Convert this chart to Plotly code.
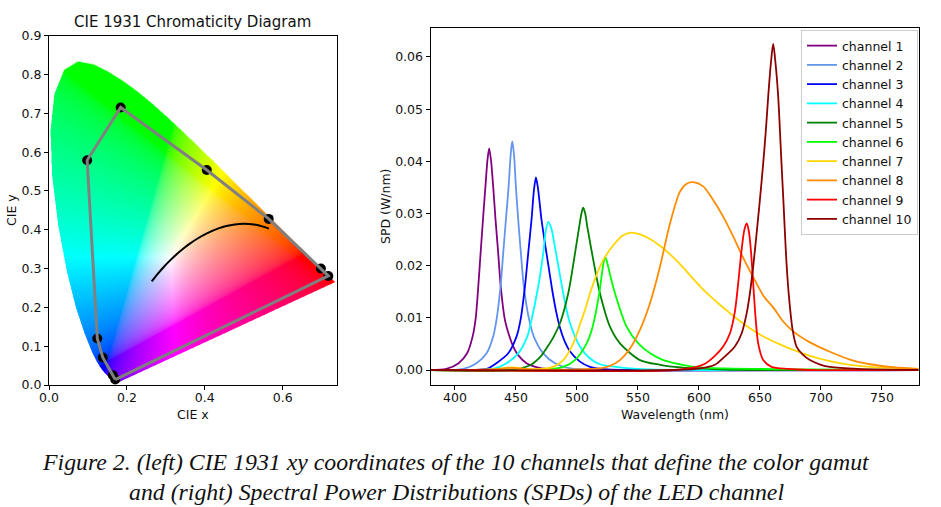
import numpy as np
import plotly.graph_objects as go
import zlib, struct, base64

# ---------------- DATA ----------------
# CIE 1931 2-degree spectral locus (x, y), 380-700 nm
locus_x = [0.1741, 0.1740, 0.1738, 0.1736, 0.1733, 0.1730, 0.1726, 0.1721, 0.1714, 0.1703,
           0.1689, 0.1669, 0.1644, 0.1611, 0.1566, 0.1510, 0.1440, 0.1355, 0.1241, 0.1096,
           0.0913, 0.0687, 0.0454, 0.0235, 0.0082, 0.0039, 0.0139, 0.0389, 0.0743, 0.1142,
           0.1547, 0.1929, 0.2296, 0.2658, 0.3016, 0.3373, 0.3731, 0.4087, 0.4441, 0.4788,
           0.5125, 0.5448, 0.5752, 0.6029, 0.6270, 0.6482, 0.6658, 0.6801, 0.6915, 0.7006,
           0.7079, 0.7140, 0.7190, 0.7230, 0.7260, 0.7283, 0.7300, 0.7311, 0.7320, 0.7334,
           0.7344, 0.7347]
locus_y = [0.0050, 0.0050, 0.0049, 0.0049, 0.0048, 0.0048, 0.0048, 0.0048, 0.0051, 0.0058,
           0.0069, 0.0086, 0.0109, 0.0138, 0.0177, 0.0227, 0.0297, 0.0399, 0.0578, 0.0868,
           0.1327, 0.2007, 0.2950, 0.4127, 0.5384, 0.6548, 0.7502, 0.8120, 0.8338, 0.8262,
           0.8059, 0.7816, 0.7543, 0.7243, 0.6923, 0.6589, 0.6245, 0.5896, 0.5547, 0.5202,
           0.4866, 0.4544, 0.4242, 0.3965, 0.3725, 0.3514, 0.3340, 0.3197, 0.3083, 0.2993,
           0.2920, 0.2859, 0.2809, 0.2770, 0.2740, 0.2717, 0.2700, 0.2689, 0.2680, 0.2666,
           0.2656, 0.2653]

# Planckian locus (1667 K ... 15000 K)
planck_x = [0.5646, 0.5496, 0.5267, 0.5003, 0.4770, 0.4553, 0.4369, 0.4053, 0.3805, 0.3607,
            0.3451, 0.3221, 0.3064, 0.2952, 0.2807, 0.2718, 0.2637]
planck_y = [0.4029, 0.4081, 0.4133, 0.4153, 0.4137, 0.4097, 0.4041, 0.3907, 0.3768, 0.3635,
            0.3516, 0.3318, 0.3166, 0.3048, 0.2884, 0.2776, 0.2672]

# CIE xy of the 10 channels
chan_x = [0.170, 0.164, 0.138, 0.124, 0.098, 0.184, 0.405, 0.564, 0.698, 0.717]
chan_y = [0.014, 0.025, 0.071, 0.120, 0.579, 0.715, 0.554, 0.428, 0.300, 0.281]

channel_names = ["channel %d" % i for i in range(1, 11)]
channel_colors = ["purple", "cornflowerblue", "blue", "cyan", "green",
                  "lime", "gold", "darkorange", "red", "darkred"]

wl1 = [380, 393, 403, 410, 414.5, 417, 419, 421, 423, 425, 426.8, 428.1, 429.6, 431.4, 433.3,
       435.5, 437.5, 441, 444.5, 447.8, 452, 458.7, 466, 475, 490, 780]
spd1 = [0, 0.0002, 0.0013, 0.0032, 0.0064, 0.0098, 0.0155, 0.0222, 0.0288, 0.0351, 0.0405,
        0.0425, 0.0402, 0.0351, 0.0288, 0.0224, 0.0162, 0.0096, 0.0066, 0.0045, 0.0028,
        0.0013, 0.0006, 0.0002, 0, 0]

wl2 = [380, 400, 407, 417.7, 426, 431.4, 434.1, 437.4, 439.6, 441.8, 444, 445.8, 447, 448.4,
       450, 451.9, 454.1, 456.5, 460.9, 464.7, 472.4, 482, 495, 520, 780]
spd2 = [0, 0, 0.0002, 0.0013, 0.0032, 0.0064, 0.0096, 0.016, 0.0224, 0.0288, 0.0351, 0.0415,
        0.0438, 0.0414, 0.0351, 0.0288, 0.0224, 0.016, 0.0096, 0.0064, 0.0032, 0.0013,
        0.0003, 0, 0]

wl3 = [380, 415, 426, 434, 443.7, 450.5, 453.8, 457.4, 460.1, 462.8, 464.8, 466.4, 468, 471,
       474, 477, 480, 483, 486, 490, 494.3, 502.5, 510.7, 525, 550, 780]
spd3 = [0, 0, 0.0002, 0.0013, 0.0032, 0.0064, 0.0096, 0.016, 0.0224, 0.0288, 0.0345, 0.0369,
        0.0350, 0.0288, 0.0240, 0.0195, 0.0150, 0.0112, 0.0082, 0.0055, 0.0036, 0.0016,
        0.0006, 0.0001, 0, 0]

wl4 = [380, 420, 431.4, 442.3, 451.9, 459.3, 462.8, 468.3, 472.4, 474.6, 476.5, 479, 482,
       486.1, 490.2, 494.3, 502.5, 510.7, 518.9, 535.3, 560, 600, 780]
spd4 = [0, 0, 0.0002, 0.0013, 0.0032, 0.0064, 0.0096, 0.016, 0.0224, 0.0268, 0.0284, 0.0272,
        0.0236, 0.0182, 0.0130, 0.0090, 0.0045, 0.0022, 0.0011, 0.0005, 0.0001, 0, 0]

wl5 = [380, 445, 461.5, 470, 476, 481, 486.5, 492.9, 497.6, 501.9, 503.8, 505.2, 506.8, 508.5,
       513.4, 518.9, 527.1, 535.3, 551.7, 568.1, 585, 600, 620, 650, 780]
spd5 = [0, 0, 0.0009, 0.0025, 0.0045, 0.0064, 0.0092, 0.0147, 0.0211, 0.0275, 0.0301, 0.0311,
        0.0300, 0.0275, 0.0211, 0.0147, 0.0083, 0.0051, 0.0019, 0.0010, 0.0005, 0.0003,
        0.0001, 0, 0]

wl6 = [380, 470, 488.8, 498.4, 508, 512.9, 518.3, 520.2, 521.8, 523.2, 524.8, 527.6, 531.2,
       540.7, 550.3, 560, 570.8, 584.5, 600, 620, 650, 690, 780]
spd6 = [0, 0, 0.0006, 0.0019, 0.0051, 0.0083, 0.0147, 0.0179, 0.0205, 0.0217, 0.0206, 0.0179,
        0.0147, 0.0083, 0.0051, 0.0032, 0.0019, 0.0011, 0.0005, 0.0003, 0.0002, 0.0001, 0]

wl7 = [380, 430, 447, 460, 470, 480.6, 488.8, 497, 501.9, 506.6, 510.7, 515.6, 521.6, 531.2,
       537, 543.4, 551.7, 559.9, 568.1, 576.2, 584.5, 592.6, 600.8, 609, 617.2, 625.4, 633.6,
       641.8, 650, 658.2, 666.4, 674.6, 682.8, 691, 707.4, 723.8, 740.2, 756.6, 780]
spd7 = [0, 0.0001, 0.0005, 0.0002, 0.0002, 0.0006, 0.0019, 0.0051, 0.0083, 0.0115, 0.0147,
        0.0179, 0.0211, 0.0243, 0.0257, 0.0263, 0.0260, 0.0251, 0.0238, 0.0222, 0.0203,
        0.0182, 0.0161, 0.0142, 0.0125, 0.0109, 0.0094, 0.0080, 0.0068, 0.0058, 0.0049,
        0.0041, 0.0034, 0.0027, 0.0017, 0.0010, 0.0006, 0.0004, 0.0002]

wl8 = [380, 430, 447, 460, 500, 518.9, 527.1, 535.3, 543.5, 551.7, 559.9, 568.1, 576.2, 584.5,
       590, 595.3, 603.5, 611.7, 619.9, 628.1, 636.3, 644.5, 652.7, 660.9, 669.1, 677.3, 691,
       707.4, 723.8, 740.2, 756.6, 773, 780]
spd8 = [0, 0.0001, 0.0004, 0.0001, 0.0001, 0.0003, 0.0008, 0.0019, 0.0041, 0.0077, 0.0128,
        0.0198, 0.0280, 0.0342, 0.0357, 0.0360, 0.0352, 0.0326, 0.0294, 0.0256, 0.0215,
        0.0178, 0.0143, 0.0120, 0.0093, 0.0074, 0.0053, 0.0035, 0.0020, 0.0011, 0.0006,
        0.0003, 0.0002]

wl9 = [380, 580, 598, 605, 613.1, 619.9, 625.4, 629.5, 632.2, 635, 637.2, 639.2, 641, 642.6,
       644.5, 646.4, 648.6, 652.7, 659.5, 673, 690, 780]
spd9 = [0, 0, 0.0006, 0.0012, 0.0027, 0.0045, 0.0070, 0.0112, 0.0166, 0.0230, 0.0268, 0.0281,
        0.0265, 0.0230, 0.0166, 0.0102, 0.0051, 0.0019, 0.0006, 0.0002, 0, 0]

wl10 = [380, 580, 600.8, 613.1, 621.3, 629.5, 635, 639.1, 641.8, 644.5, 647.3, 650, 652.7,
        654.9, 656.8, 659, 660.9, 662.8, 665, 666.4, 667.7, 669.1, 670.5, 671.8, 673.8, 676.8,
        680, 685, 691, 700, 707.4, 730, 780]
spd10 = [0, 0, 0.0003, 0.0010, 0.0026, 0.0045, 0.0070, 0.0108, 0.0147, 0.0198, 0.0262, 0.0326,
         0.0396, 0.0460, 0.0524, 0.0588, 0.0625, 0.0588, 0.0524, 0.0460, 0.0396, 0.0332,
         0.0264, 0.0205, 0.0141, 0.0077, 0.0045, 0.0030, 0.0019, 0.0010, 0.0006, 0.0002, 0]

spd_wl = [wl1, wl2, wl3, wl4, wl5, wl6, wl7, wl8, wl9, wl10]
spd_val = [spd1, spd2, spd3, spd4, spd5, spd6, spd7, spd8, spd9, spd10]

cie_ticks = [0.0, 0.2, 0.4, 0.6]
cie_yticks = [0.0, 0.1, 0.2, 0.3, 0.4, 0.5, 0.6, 0.7, 0.8, 0.9]
wl_ticks = [400, 450, 500, 550, 600, 650, 700, 750]
spd_ticks = [0.0, 0.01, 0.02, 0.03, 0.04, 0.05, 0.06]

# ---------------- layout geometry ----------------
W, H = 941, 507
X_MAX, Y_MAX = 0.7386, 0.9
SPD_RANGE = [-0.002875, 0.06565]

def px_x(p):
    return p / W

def px_y(p):
    return (H - p) / H

# ---------------- chromaticity colour field ----------------
def inside_polygon(px, py, vx, vy):
    res = np.zeros(px.shape, dtype=bool)
    n = len(vx)
    j = n - 1
    for i in range(n):
        xi, yi, xj, yj = vx[i], vy[i], vx[j], vy[j]
        if yi != yj:
            cond = ((yi > py) != (yj > py)) & (px < (xj - xi) * (py - yi) / (yj - yi) + xi)
            res ^= cond
        j = i
    return res

IW, IH = 576, 698
gx = (np.arange(IW) + 0.5) / IW * X_MAX
gy = Y_MAX - (np.arange(IH) + 0.5) / IH * Y_MAX
GX, GY = np.meshgrid(gx, gy)
GYs = np.maximum(GY, 1e-4)
XYZ = np.stack([GX / GYs, np.ones_like(GX), (1 - GX - GY) / GYs], axis=-1)
M = np.array([[3.2406, -1.5372, -0.4986],
              [-0.9689, 1.8758, 0.0415],
              [0.0557, -0.2040, 1.0570]])
rgb = XYZ @ M.T
enc = np.where(rgb <= 0.0031308, 12.92 * rgb, 1.055 * np.abs(rgb) ** (1 / 2.4) - 0.055)
enc = enc / np.maximum(enc.max(axis=-1, keepdims=True), 1e-6)
enc = np.clip(enc, 0, 1)
mask = inside_polygon(GX, GY, np.array(locus_x), np.array(locus_y))
rgba = np.zeros((IH, IW, 4), dtype=np.uint8)
rgba[..., :3] = (enc * 255).round().astype(np.uint8)
rgba[..., 3] = np.where(mask, 255, 0).astype(np.uint8)

def png_uri(arr):
    h, w = arr.shape[:2]
    raw = b"".join(b"\x00" + arr[r].tobytes() for r in range(h))
    def chunk(t, d):
        return struct.pack(">I", len(d)) + t + d + struct.pack(">I", zlib.crc32(t + d) & 0xffffffff)
    png = (b"\x89PNG\r\n\x1a\n" + chunk(b"IHDR", struct.pack(">IIBBBBB", w, h, 8, 6, 0, 0, 0))
           + chunk(b"IDAT", zlib.compress(raw, 9)) + chunk(b"IEND", b""))
    return "data:image/png;base64," + base64.b64encode(png).decode()

# ---------------- figure ----------------
fig = go.Figure()

fig.add_trace(go.Scatter(x=planck_x, y=planck_y, mode="lines",
                         line=dict(color="black", width=2, shape="spline"),
                         xaxis="x", yaxis="y", showlegend=False, hoverinfo="skip"))
fig.add_trace(go.Scatter(x=chan_x, y=chan_y, mode="markers",
                         marker=dict(color="black", size=10),
                         xaxis="x", yaxis="y", showlegend=False))
fig.add_trace(go.Scatter(x=chan_x + chan_x[:1], y=chan_y + chan_y[:1], mode="lines",
                         line=dict(color="gray", width=3),
                         xaxis="x", yaxis="y", showlegend=False, hoverinfo="skip"))

for name, col, wl, val in zip(channel_names, channel_colors, spd_wl, spd_val):
    fig.add_trace(go.Scatter(x=wl, y=val, mode="lines", name=name,
                             line=dict(color=col, width=1.8, shape="spline", smoothing=0.8),
                             xaxis="x2", yaxis="y2"))

axis_common = dict(showline=True, mirror=True, linecolor="black", linewidth=1,
                   ticks="outside", ticklen=4, tickwidth=1, tickcolor="black",
                   showgrid=False, zeroline=False, automargin=False,
                   tickfont=dict(family="DejaVu Sans", size=12.5, color="#111"))

fig.update_layout(
    width=W, height=H, autosize=False,
    margin=dict(l=0, r=0, t=0, b=0, pad=0, autoexpand=False),
    paper_bgcolor="white", plot_bgcolor="white",
    font=dict(family="DejaVu Sans", color="#111"),
    xaxis=dict(domain=[px_x(49), px_x(336.7)], range=[0, X_MAX], anchor="y",
               tickvals=cie_ticks, ticktext=["%.1f" % t for t in cie_ticks],
               ticklabelstandoff=-3, **axis_common),
    yaxis=dict(domain=[px_y(385), px_y(35.7)], range=[0, Y_MAX], anchor="x",
               tickvals=cie_yticks, ticktext=["%.1f" % t for t in cie_yticks], **axis_common),
    xaxis2=dict(domain=[px_x(430.5), px_x(918.5)], range=[380, 780], anchor="y2",
                tickvals=wl_ticks, ticklabelstandoff=-3, **axis_common),
    yaxis2=dict(domain=[px_y(385), px_y(27.5)], range=SPD_RANGE, anchor="x2",
                tickvals=spd_ticks, ticktext=["%.2f" % t for t in spd_ticks], **axis_common),
    legend=dict(x=px_x(801), y=px_y(30), xanchor="left", yanchor="top",
                bgcolor="white", bordercolor="#cccccc", borderwidth=1,
                font=dict(family="DejaVu Sans", size=12.5, color="#111")),
    images=[dict(source=png_uri(rgba), xref="x", yref="y", x=0, y=Y_MAX,
                 sizex=X_MAX, sizey=Y_MAX, sizing="stretch",
                 xanchor="left", yanchor="top", layer="below")],
)

ann = [
    dict(text="CIE 1931 Chromaticity Diagram", x=px_x(192.5), y=px_y(22), size=15, angle=0),
    dict(text="CIE x", x=px_x(192.5), y=px_y(414), size=12.5, angle=0),
    dict(text="CIE y", x=px_x(11), y=px_y(210), size=12.5, angle=-90),
    dict(text="Wavelength (nm)", x=px_x(675), y=px_y(414), size=12.5, angle=0),
    dict(text="SPD (W/nm)", x=px_x(386), y=px_y(206), size=12.5, angle=-90),
]
for a in ann:
    fig.add_annotation(text=a["text"], x=a["x"], y=a["y"], xref="paper", yref="paper",
                       xanchor="center", yanchor="middle", showarrow=False, textangle=a["angle"],
                       font=dict(family="DejaVu Sans", size=a["size"], color="#111"))

caption = ["Figure 2. (left) CIE 1931 xy coordinates of the 10 channels that define the color gamut",
           "and (right) Spectral Power Distributions (SPDs) of the LED channel"]
for line, yy in zip(caption, [462, 492]):
    fig.add_annotation(text="<i>" + line + "</i>", x=px_x(456), y=px_y(yy), xref="paper", yref="paper",
                       xanchor="center", yanchor="middle", showarrow=False,
                       font=dict(family="Liberation Serif", size=23.8, color="#111"))

fig.write_html("out.html", config={"displayModeBar": False},
               post_script="document.body.style.margin='0';document.body.style.overflow='hidden';")
